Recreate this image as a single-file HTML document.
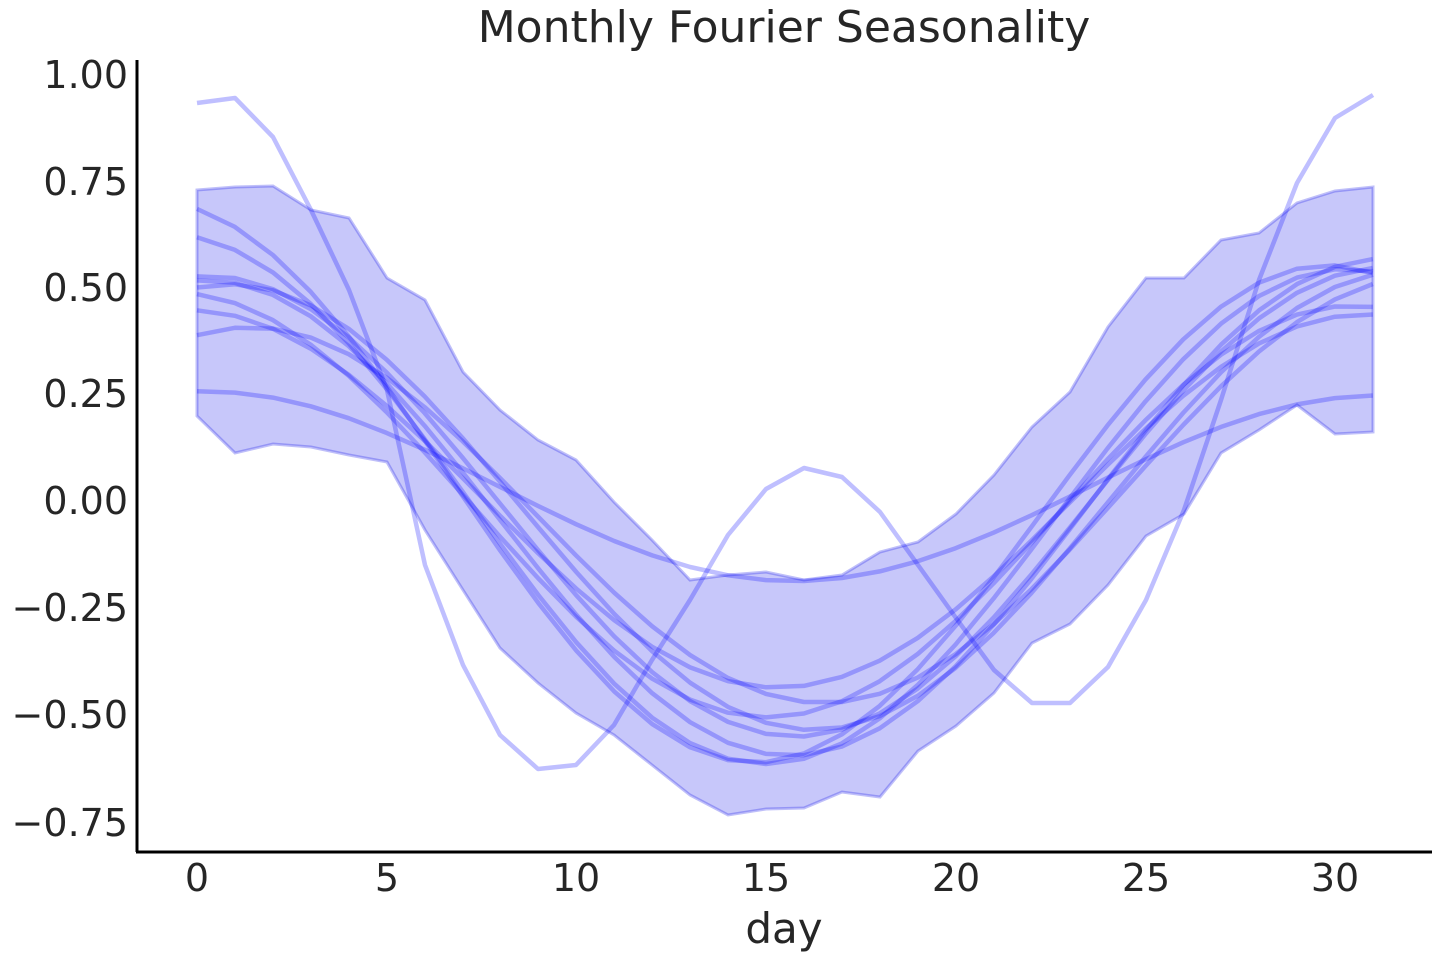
<!DOCTYPE html>
<html><head><meta charset="utf-8"><style>
body{margin:0;background:#fff;}
svg text{font-family:"DejaVu Sans","Liberation Sans",sans-serif;fill:#262626;}
</style></head><body>
<svg id="s" width="1440" height="960" xmlns="http://www.w3.org/2000/svg">
<text x="784" y="42" font-size="44" text-anchor="middle">Monthly Fourier Seasonality</text>
<polygon fill="rgba(0,0,230,0.22)" stroke="rgba(0,0,230,0.25)" stroke-width="3" points="197,190 235,187 273,186 311,210 349,218 387,278 425,300 463,372 500,410 538,440 576,460 614,502 652,540 690,580 728,575 766,572 804,580 842,575 880,552 918,542 956,514 994,475 1032,427 1070,392 1108,327 1146,278 1184,278 1221,240 1259,233 1297,203 1335,191 1373,187 1373,432 1335,434 1297,405 1259,430 1221,453 1184,514 1146,536 1108,585 1070,624 1032,643 994,693 956,726 918,751 880,797 842,792 804,808 766,809 728,815 690,795 652,765 614,735 576,713 538,683 500,648 463,590 425,530 387,462 349,455 311,447 273,444 235,453 197,416"/>
<g id="lines" fill="none" stroke="rgba(0,0,255,0.25)" stroke-width="4.5" stroke-linejoin="round">
<polyline points="197,103 235,98 273,137 311,210 349,290 387,390 425,565 463,665 500,735 538,769 576,765 614,725 652,660 690,600 728,535 766,489 804,468 842,477 880,512 918,565 956,618 994,670 1032,703 1070,703 1108,667 1146,600 1184,510 1221,400 1259,280 1297,183 1335,118 1373,95"/>
</g>
<line x1="137" y1="60" x2="137" y2="852" stroke="#000" stroke-width="3"/>
<line x1="136" y1="852" x2="1432" y2="852" stroke="#000" stroke-width="3"/>
<g font-size="38" text-anchor="end">
<text x="128" y="88">1.00</text><text x="128" y="195">0.75</text><text x="128" y="301">0.50</text><text x="128" y="407">0.25</text><text x="128" y="514">0.00</text><text x="128" y="621">−0.25</text><text x="128" y="728">−0.50</text><text x="128" y="836">−0.75</text>
</g>
<g font-size="38" text-anchor="middle">
<text x="197" y="891">0</text><text x="387" y="891">5</text><text x="576" y="891">10</text><text x="766" y="891">15</text><text x="956" y="891">20</text><text x="1146" y="891">25</text><text x="1335" y="891">30</text>
<text x="784" y="943" font-size="42">day</text>
</g>
</svg>
<script>
var P=[[0.62,0,-1.0,-0.15],[0.60,-0.02,-0.6,-0.08],[0.57,-0.03,0.2,0.05],[0.545,-0.01,0.3,0.02],[0.49,-0.02,-0.5,-0.03],[0.47,-0.01,1.2,0.12],[0.44,0,-0.2,-0.01],[0.22,0.03,0.2,-0.01],[0.53,-0.01,0.8,0.03]];
var g=document.getElementById('lines');
P.forEach(function(q){var pts=[];for(var d=0;d<=31;d++){var v=q[1]+q[0]*Math.cos(2*Math.PI*(d-q[2])/31)+q[3]*(d-15.5)/31;pts.push((197+d*37.93).toFixed(1)+','+(500-v*426.7).toFixed(1));}
var e=document.createElementNS('http://www.w3.org/2000/svg','polyline');e.setAttribute('points',pts.join(' '));g.appendChild(e);});
</script>
</body></html>
